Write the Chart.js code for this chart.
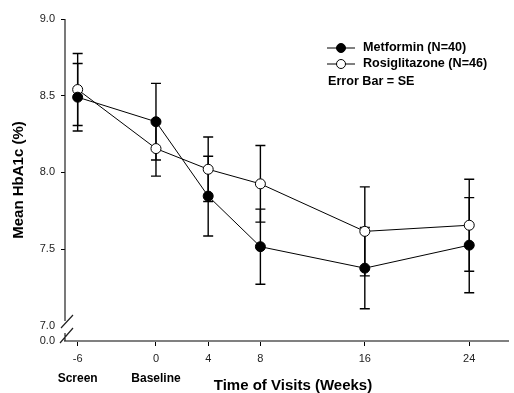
<!DOCTYPE html>
<html>
<head>
<meta charset="utf-8">
<script src="https://cdn.jsdelivr.net/npm/chart.js@4/dist/chart.umd.min.js"></script>
<style>
  html, body { margin: 0; padding: 0; background: #fff; }
  #wrap { width: 514px; height: 393px; }
</style>
</head>
<body>
<div id="wrap"><canvas id="chart"></canvas></div>
<script>
// visit weeks and the named visits under the first two ticks
const weeks = [-6, 0, 4, 8, 16, 24];
const visitNames = ['Screen', 'Baseline'];

// mean HbA1c (%) and standard errors
const metformin = [8.49, 8.33, 7.845, 7.515, 7.375, 7.525];
const metforminSE = [0.22, 0.25, 0.26, 0.245, 0.265, 0.31];
const rosiglitazone = [8.54, 8.155, 8.02, 7.925, 7.615, 7.655];
const rosiglitazoneSE = [0.235, 0.18, 0.21, 0.25, 0.29, 0.30];

const yTicks = [7.0, 7.5, 8.0, 8.5, 9.0];

const FONT = 'Arial, "Liberation Sans", sans-serif';

function toPoints(ys) {
  return weeks.map((w, i) => ({ x: w, y: ys[i] }));
}

// error bars drawn under the markers
const errorBars = {
  id: 'errorBars',
  beforeDatasetsDraw(chart) {
    const ctx = chart.ctx;
    const xs = chart.scales.x, ys = chart.scales.y;
    const sets = [[metformin, metforminSE], [rosiglitazone, rosiglitazoneSE]];
    ctx.save();
    ctx.strokeStyle = '#000';
    ctx.lineWidth = 1.4;
    sets.forEach(([vals, se]) => {
      vals.forEach((v, i) => {
        const px = xs.getPixelForValue(weeks[i]);
        const top = ys.getPixelForValue(v + se[i]);
        const bot = ys.getPixelForValue(v - se[i]);
        ctx.beginPath();
        ctx.moveTo(px, top); ctx.lineTo(px, bot);
        ctx.moveTo(px - 5, top); ctx.lineTo(px + 5, top);
        ctx.moveTo(px - 5, bot); ctx.lineTo(px + 5, bot);
        ctx.stroke();
      });
    });
    ctx.restore();
  }
};

// broken y axis, extra labels and legend box
const extras = {
  id: 'extras',
  afterDraw(chart) {
    const ctx = chart.ctx;
    const area = chart.chartArea;
    const xs = chart.scales.x;
    ctx.save();
    ctx.strokeStyle = '#222';
    ctx.lineWidth = 1.2;
    ctx.beginPath();
    ctx.moveTo(area.left, area.top); ctx.lineTo(area.left, area.bottom - 20);
    ctx.moveTo(area.left, area.bottom - 8); ctx.lineTo(area.left, area.bottom);
    ctx.moveTo(area.left + 8, area.bottom - 26); ctx.lineTo(area.left - 4, area.bottom - 13);
    ctx.moveTo(area.left + 8, area.bottom - 13); ctx.lineTo(area.left - 5, area.bottom + 2);
    ctx.stroke();

    ctx.fillStyle = '#222';
    ctx.font = '11px ' + FONT;
    ctx.textAlign = 'right';
    ctx.textBaseline = 'middle';
    ctx.fillText('0.0', area.left - 10, area.bottom);

    ctx.fillStyle = '#000';
    ctx.font = 'bold 12px ' + FONT;
    ctx.textAlign = 'center';
    visitNames.forEach((name, i) => {
      ctx.fillText(name, xs.getPixelForValue(weeks[i]), 379);
    });

    ctx.font = 'bold 15px ' + FONT;
    ctx.fillText('Time of Visits (Weeks)', 293, 386);

    // legend
    const items = [
      { label: 'Metformin (N=40)', fill: '#000', y: 48 },
      { label: 'Rosiglitazone (N=46)', fill: '#fff', y: 64 }
    ];
    ctx.font = 'bold 12.6px ' + FONT;
    ctx.textAlign = 'left';
    items.forEach(it => {
      ctx.strokeStyle = '#000';
      ctx.lineWidth = 1;
      ctx.beginPath();
      ctx.moveTo(327, it.y); ctx.lineTo(355, it.y);
      ctx.stroke();
      ctx.beginPath();
      ctx.arc(341, it.y, 4.5, 0, Math.PI * 2);
      ctx.fillStyle = it.fill;
      ctx.fill();
      ctx.stroke();
      ctx.fillStyle = '#000';
      ctx.fillText(it.label, 363, it.y);
    });
    ctx.fillText('Error Bar = SE', 328, 82);
    ctx.restore();
  }
};

new Chart(document.getElementById('chart'), {
  type: 'scatter',
  data: {
    datasets: [
      {
        label: 'Metformin (N=40)',
        data: toPoints(metformin),
        showLine: true,
        borderColor: '#000',
        borderWidth: 1,
        backgroundColor: '#000',
        pointBorderColor: '#000',
        pointBackgroundColor: '#000',
        pointRadius: 5,
        pointBorderWidth: 1
      },
      {
        label: 'Rosiglitazone (N=46)',
        data: toPoints(rosiglitazone),
        showLine: true,
        borderColor: '#000',
        borderWidth: 1,
        backgroundColor: '#fff',
        pointBorderColor: '#000',
        pointBackgroundColor: '#fff',
        pointRadius: 5,
        pointBorderWidth: 1
      }
    ]
  },
  options: {
    responsive: true,
    maintainAspectRatio: false,
    animation: false,
    layout: { padding: { top: 19, right: 1, left: 0, bottom: 0 } },
    plugins: {
      legend: { display: false },
      tooltip: { enabled: false }
    },
    scales: {
      x: {
        type: 'linear',
        min: -6.97,
        max: 26.97,
        afterBuildTicks: s => { s.ticks = weeks.map(v => ({ value: v })); },
        afterFit: s => { s.height = 52; },
        grid: { drawOnChartArea: false, drawTicks: true, tickLength: 5, color: '#000' },
        border: { display: true, color: '#808080', width: 2 },
        ticks: {
          color: '#222',
          padding: 6,
          maxRotation: 0,
          font: { family: FONT, size: 11 },
          callback: v => String(v)
        }
      },
      y: {
        min: 6.9,
        max: 9.0,
        afterBuildTicks: s => { s.ticks = yTicks.map(v => ({ value: v })); },
        afterFit: s => { s.width = 65; },
        grid: {
          drawOnChartArea: false,
          drawTicks: true,
          tickLength: 4,
          color: c => (c.tick && c.tick.value === 7 ? 'rgba(0,0,0,0)' : '#000')
        },
        border: { display: false },
        ticks: {
          color: '#222',
          padding: 6,
          font: { family: FONT, size: 11 },
          callback: v => Number(v).toFixed(1)
        },
        title: {
          display: true,
          text: 'Mean HbA1c (%)',
          color: '#000',
          font: { family: FONT, size: 15, weight: 'bold', lineHeight: 1 },
          padding: { top: 11, bottom: 0 }
        }
      }
    }
  },
  plugins: [errorBars, extras]
});
</script>
</body>
</html>
